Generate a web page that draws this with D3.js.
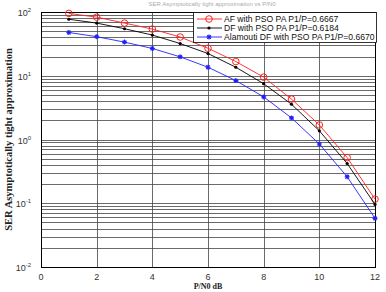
<!DOCTYPE html>
<html>
<head>
<meta charset="utf-8">
<script src="https://cdn.jsdelivr.net/npm/d3@7"></script>
<style>
  body { margin: 0; background: #fff; }
  svg { display: block; }
</style>
</head>
<body>
<div id="chart"></div>
<script>
// data
const snr = [1, 2, 3, 4, 5, 6, 7, 8, 9, 10, 11, 12];
const serAF = [95, 83, 67, 54, 40.5, 27, 16.7, 9.5, 4.3, 1.69, 0.52, 0.116];
const serDF = [77, 67, 54.6, 43.5, 32, 22.3, 13.6, 7.5, 3.57, 1.37, 0.42, 0.096];
const serAlamouti = [47.7, 41, 33.7, 26.8, 19.8, 13.6, 8.4, 4.66, 2.18, 0.85, 0.26, 0.058];
const xTicks = [0, 2, 4, 6, 8, 10, 12];
const yDecades = [-2, -1, 0, 1, 2];
const seriesNames = [
    "AF with PSO PA P1/P=0.6667",
    "DF with PSO PA P1/P=0.6184",
    "Alamouti DF with PSO PA P1/P=0.6670"
];

const W = 386, H = 292;
const margin = { top: 12, right: 11, bottom: 25, left: 41 };
const width = W - margin.left - margin.right;
const height = H - margin.top - margin.bottom;

const svg = d3.select("#chart").append("svg")
    .attr("width", W)
    .attr("height", H);

// faint title above the plot
svg.append("text")
    .attr("x", 212)
    .attr("y", 6)
    .attr("text-anchor", "middle")
    .attr("font-family", "Liberation Sans, Arial, sans-serif")
    .attr("font-size", "6px")
    .attr("fill", "#aaa")
    .text("SER Asymptotically tight approximation vs P/N0");

const g = svg.append("g")
    .attr("transform", `translate(${margin.left},${margin.top})`);

const x = d3.scaleLinear().domain([0, 12]).range([0, width]);
const y = d3.scaleLog().domain([0.01, 100]).range([height, 0]);

// grid: minor log lines + vertical lines
const minor = [];
yDecades.slice(0, -1).forEach(p => {
    for (let k = 1; k <= 9; k++) minor.push(k * Math.pow(10, p));
});
g.append("g").selectAll("line")
    .data(minor)
    .join("line")
    .attr("x1", 0).attr("x2", width)
    .attr("y1", d => Math.round(y(d)) + 0.5)
    .attr("y2", d => Math.round(y(d)) + 0.5)
    .attr("stroke", "#444")
    .attr("stroke-width", 0.8);
g.append("g").selectAll("line")
    .data(xTicks.slice(1, -1))
    .join("line")
    .attr("x1", d => Math.round(x(d)) + 0.5)
    .attr("x2", d => Math.round(x(d)) + 0.5)
    .attr("y1", 0).attr("y2", height)
    .attr("stroke", "#444")
    .attr("stroke-width", 0.8);

// frame
g.append("rect")
    .attr("x", 0.5).attr("y", 0.5)
    .attr("width", width).attr("height", height)
    .attr("fill", "none")
    .attr("stroke", "#000")
    .attr("stroke-width", 1);

// x tick labels
g.append("g").selectAll("text")
    .data(xTicks)
    .join("text")
    .attr("x", d => x(d))
    .attr("y", height + 13)
    .attr("text-anchor", "middle")
    .attr("font-family", "Liberation Sans, Arial, sans-serif")
    .attr("font-size", "9px")
    .attr("fill", "#333")
    .text(d => d);

// y tick labels 10^p
const yLab = g.append("g").selectAll("text")
    .data(yDecades)
    .join("text")
    .attr("x", -10)
    .attr("y", d => y(Math.pow(10, d)) + 4)
    .attr("text-anchor", "end")
    .attr("font-family", "Liberation Sans, Arial, sans-serif")
    .attr("font-size", "9px")
    .attr("fill", "#333");
yLab.append("tspan").text("10");
yLab.append("tspan")
    .attr("dy", -4)
    .attr("font-size", "6px")
    .text(d => d);

// axis titles
svg.append("text")
    .attr("transform", `translate(12,${margin.top + height / 2}) rotate(-90)`)
    .attr("text-anchor", "middle")
    .attr("font-family", "Liberation Serif, Times New Roman, serif")
    .attr("font-weight", "bold")
    .attr("font-size", "10.5px")
    .attr("fill", "#222")
    .text("SER Asymptotically tight approximation");
svg.append("text")
    .attr("x", margin.left + width / 2)
    .attr("y", 289)
    .attr("text-anchor", "middle")
    .attr("font-family", "Liberation Serif, Times New Roman, serif")
    .attr("font-weight", "bold")
    .attr("font-size", "8px")
    .attr("fill", "#222")
    .text("P/N0 dB");

const series = [
    { name: seriesNames[0], values: serAF, color: "#ff2020", marker: "circle" },
    { name: seriesNames[1], values: serDF, color: "#000", marker: "dot" },
    { name: seriesNames[2], values: serAlamouti, color: "#2020ff", marker: "star" }
];

const line = d3.line()
    .x((d, i) => x(snr[i]))
    .y(d => y(d));

function drawMarker(sel, s) {
    if (s.marker === "circle") {
        sel.append("circle").attr("r", 3.3)
            .attr("fill", "none").attr("stroke", s.color).attr("stroke-width", 1);
    } else if (s.marker === "dot") {
        sel.append("circle").attr("r", 1.6).attr("fill", s.color);
    } else {
        sel.append("path")
            .attr("d", "M-2.5,0H2.5M0,-2.5V2.5M-1.8,-1.8L1.8,1.8M-1.8,1.8L1.8,-1.8")
            .attr("stroke", s.color).attr("stroke-width", 1.1);
    }
}

series.forEach(s => {
    g.append("path")
        .datum(s.values)
        .attr("d", line)
        .attr("fill", "none")
        .attr("stroke", s.color)
        .attr("stroke-width", 0.9);
    g.append("g").selectAll("g")
        .data(s.values)
        .join("g")
        .attr("transform", (d, i) => `translate(${x(snr[i])},${y(d)})`)
        .each(function () { drawMarker(d3.select(this), s); });
});

// legend
const leg = svg.append("g").attr("transform", "translate(193,12)");
leg.append("rect")
    .attr("x", 0.5).attr("y", 0.5)
    .attr("width", 183).attr("height", 30)
    .attr("fill", "#fff")
    .attr("stroke", "#000")
    .attr("stroke-width", 0.8);
series.forEach((s, i) => {
    const row = leg.append("g").attr("transform", `translate(0,${7 + i * 9})`);
    row.append("line")
        .attr("x1", 4).attr("x2", 29)
        .attr("stroke", s.color).attr("stroke-width", 0.9);
    drawMarker(row.append("g").attr("transform", "translate(16,0)"), s);
    row.append("text")
        .attr("x", 31)
        .attr("y", 3.3)
        .attr("font-family", "Liberation Sans, Arial, sans-serif")
        .attr("font-size", "8.6px")
        .attr("fill", "#111")
        .text(s.name);
});
</script>
</body>
</html>
